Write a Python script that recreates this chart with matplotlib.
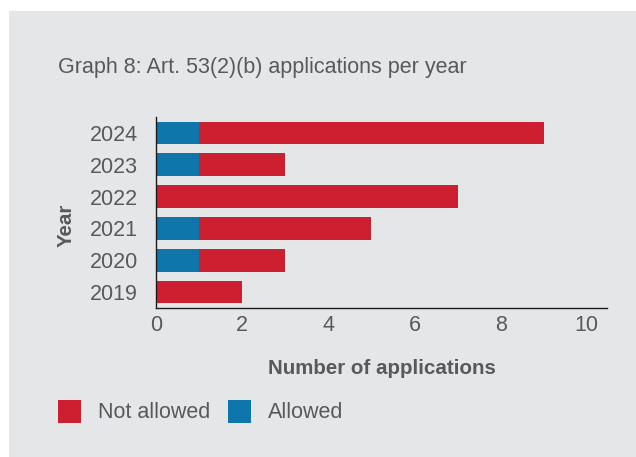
import matplotlib
matplotlib.use("Agg")
import matplotlib.pyplot as plt
from matplotlib.patches import Rectangle

years = ["2019", "2020", "2021", "2022", "2023", "2024"]
allowed = [0, 1, 1, 0, 1, 1]
not_allowed = [2, 2, 4, 7, 2, 8]
xticks = [0, 2, 4, 6, 8, 10]

RED = "#cc1f30"
BLUE = "#0f76ab"
BG = "#e5e6e8"
TXT = "#58595b"
FS = 15.5

plt.rcParams["font.family"] = ["Liberation Sans", "DejaVu Sans"]

fig = plt.figure(figsize=(6.36, 4.57), dpi=100)
fig.patch.set_facecolor("white")
fig.patches.append(Rectangle((9 / 636, 0), 1, 1 - 11 / 457, transform=fig.transFigure,
                             facecolor=BG, edgecolor="none", zorder=-10))

ax = fig.add_axes([156 / 636, 1 - 308 / 457, 451 / 636, 191 / 457])
ax.set_facecolor("none")

pos = range(len(years))
ax.barh(pos, allowed, height=0.71, color=BLUE)
ax.barh(pos, not_allowed, left=allowed, height=0.71, color=RED)

ax.set_xlim(0, 10.47)
ax.set_ylim(-0.5, 5.5)
ax.set_yticks(list(pos))
ax.set_yticklabels(years)
ax.set_xticks(xticks)
ax.tick_params(axis="both", length=0, labelsize=FS, labelcolor=TXT)
ax.tick_params(axis="y", pad=13)
ax.tick_params(axis="x", pad=5)
for s in ["top", "right"]:
    ax.spines[s].set_visible(False)
for s in ["left", "bottom"]:
    ax.spines[s].set_linewidth(1.0)
    ax.spines[s].set_color("#1a1a1a")

fig.text(58 / 636, 1 - 68 / 457, "Graph 8: Art. 53(2)(b) applications per year",
         fontsize=FS, color=TXT, va="center", ha="left")
fig.text(66 / 636, 1 - 225 / 457, "Year", fontsize=14.8, color=TXT, rotation=90,
         ha="center", va="center", fontweight="bold")
fig.text(382 / 636, 1 - 369 / 457, "Number of applications", fontsize=14.8, color=TXT,
         ha="center", va="center", fontweight="bold")

# legend
for x0, c, label, tx in [(58, RED, "Not allowed", 98), (228, BLUE, "Allowed", 268)]:
    fig.patches.append(Rectangle((x0 / 636, 1 - 423 / 457), 23 / 636, 23 / 457,
                                 transform=fig.transFigure, facecolor=c, edgecolor="none"))
    fig.text(tx / 636, 1 - 412 / 457, label, fontsize=FS, color=TXT, ha="left", va="center")

fig.savefig("out.png", dpi=100, facecolor=fig.get_facecolor())
